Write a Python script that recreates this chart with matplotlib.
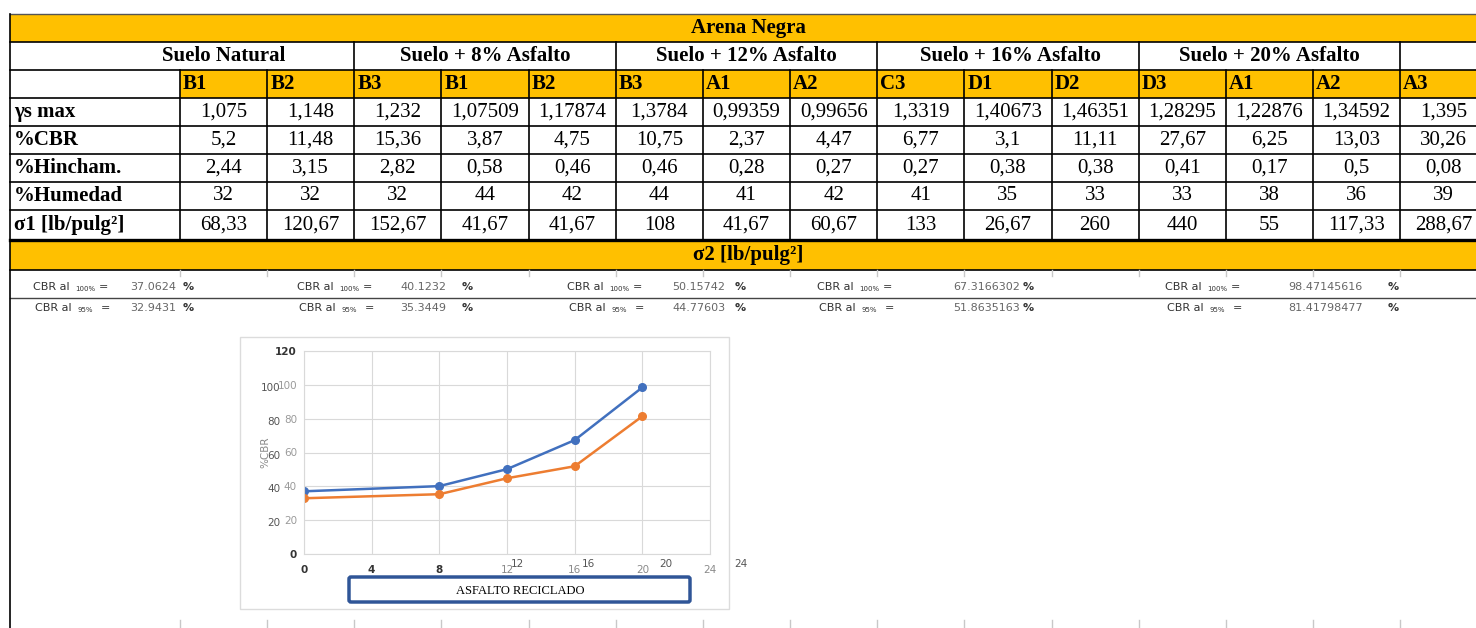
import numpy as np
import matplotlib.pyplot as plt
from matplotlib.patches import Rectangle, FancyBboxPatch

# ---- data read from the sheet ----
groups = ['Suelo Natural', 'Suelo + 8% Asfalto', 'Suelo + 12% Asfalto',
          'Suelo + 16% Asfalto', 'Suelo + 20% Asfalto']
samples = ['B1', 'B2', 'B3', 'B1', 'B2', 'B3', 'A1', 'A2', 'C3',
           'D1', 'D2', 'D3', 'A1', 'A2', 'A3']
row_labels = ['γs max', '%CBR', '%Hincham.', '%Humedad', 'σ1 [lb/pulg²]']
gamma_max = [1.075, 1.148, 1.232, 1.07509, 1.17874, 1.3784, 0.99359, 0.99656,
             1.3319, 1.40673, 1.46351, 1.28295, 1.22876, 1.34592, 1.395]
cbr = [5.2, 11.48, 15.36, 3.87, 4.75, 10.75, 2.37, 4.47, 6.77,
       3.1, 11.11, 27.67, 6.25, 13.03, 30.26]
hincham = [2.44, 3.15, 2.82, 0.58, 0.46, 0.46, 0.28, 0.27, 0.27,
           0.38, 0.38, 0.41, 0.17, 0.5, 0.08]
humedad = [32, 32, 32, 44, 42, 44, 41, 42, 41, 35, 33, 33, 38, 36, 39]
sigma1 = [68.33, 120.67, 152.67, 41.67, 41.67, 108, 41.67, 60.67, 133,
          26.67, 260, 440, 55, 117.33, 288.67]

asfalto = [0, 8, 12, 16, 20]
cbr_100 = [37.0624, 40.1232, 50.15742, 67.3166302, 98.47145616]
cbr_95 = [32.9431, 35.3449, 44.77603, 51.8635163, 81.41798477]

YELLOW = '#FFC000'
BLUE = '#4170BE'
ORANGE = '#ED7D31'
SERIF = 'Liberation Serif'
FS = 15


def fmt(v):
    return f"{v:g}".replace('.', ',')


fig = plt.figure(figsize=(14.76, 6.28), dpi=100)
bg = fig.add_axes([0, 0, 1, 1])
bg.set_xlim(0, 1476)
bg.set_ylim(628, 0)
bg.axis('off')

x0, xc, cw = 10, 180, 87.15
col_x = [xc + i * cw for i in range(16)]
rows_y = [14, 42, 70, 98, 126, 154, 182, 210, 240, 270]

# yellow bands
bg.add_patch(Rectangle((x0, 14), 1476 - x0, 28, color=YELLOW, lw=0))
bg.add_patch(Rectangle((xc, 70), 1476 - xc, 28, color=YELLOW, lw=0))
bg.add_patch(Rectangle((x0, 241), 1476 - x0, 29, color=YELLOW, lw=0))

# horizontal lines
bg.plot([x0, 1476], [13.5, 13.5], color='#555555', lw=1)
for y in rows_y[1:8]:
    bg.plot([x0, 1476], [y, y], color='black', lw=1.2)
bg.plot([x0, 1476], [240, 240], color='black', lw=2.4)
bg.plot([x0, 1476], [270, 270], color='black', lw=1.2)
bg.plot([x0, 1476], [297.5, 297.5], color='#444444', lw=1)

# vertical lines
bg.plot([x0, x0], [13.5, 628], color='black', lw=1.2)
for i in (2, 5, 8, 11, 14):
    bg.plot([col_x[i], col_x[i]], [42, 70], color='black', lw=1.2)
for x in col_x[:15]:
    bg.plot([x, x], [70, 240], color='black', lw=1.2)

# faint spreadsheet grid marks
for x in col_x[:15]:
    bg.plot([x, x], [270, 276], color='#c8c8c8', lw=1)
    bg.plot([x, x], [620, 628], color='#c8c8c8', lw=1)

# title rows
bg.text(748, 28, 'Arena Negra', ha='center', va='center', family=SERIF,
        fontsize=FS, fontweight='bold')
group_x = [224, 485, 746, 1010, 1269]
for gx, g in zip(group_x, groups):
    bg.text(gx, 56, g, ha='center', va='center', family=SERIF,
            fontsize=FS, fontweight='bold')
for i, s in enumerate(samples):
    bg.text(col_x[i] + 3, 84, s, ha='left', va='center', family=SERIF,
            fontsize=FS, fontweight='bold')

table = [gamma_max, cbr, hincham, humedad, sigma1]
for r, (lab, vals) in enumerate(zip(row_labels, table)):
    yc = (rows_y[r + 3] + rows_y[r + 4]) / 2
    bg.text(14, yc, lab, ha='left', va='center', family=SERIF,
            fontsize=FS, fontweight='bold')
    for i, v in enumerate(vals):
        bg.text(col_x[i] + cw / 2, yc, fmt(v), ha='center', va='center',
                family=SERIF, fontsize=FS)

bg.text(748, 255, 'σ2 [lb/pulg²]', ha='center', va='center', family=SERIF,
        fontsize=FS, fontweight='bold')

# CBR summary lines
lab_x = [33, 297, 567, 817, 1165]
val_x = [130, 400, 672, 953, 1288]
pct_x = [183, 462, 735, 1023, 1388]
for rowy, sub, vals, shift in [(287, '100%', cbr_100, 0), (308, '95%', cbr_95, 2)]:
    for lx, vx, px, v in zip(lab_x, val_x, pct_x, vals):
        bg.text(lx + shift, rowy, 'CBR al', ha='left', va='center',
                fontsize=8, color='#333333', family='DejaVu Sans')
        bg.text(lx + shift + 42, rowy + 2, sub, ha='left', va='center',
                fontsize=5, color='#333333', family='DejaVu Sans')
        bg.text(lx + shift + 66, rowy, '=', ha='left', va='center',
                fontsize=8, color='#333333', family='DejaVu Sans')
        bg.text(vx, rowy, str(v), ha='left', va='center',
                fontsize=8, color='#666666', family='DejaVu Sans')
        bg.text(px, rowy, '%', ha='left', va='center', fontsize=8,
                color='#333333', family='DejaVu Sans', fontweight='bold')

# chart frame
bg.add_patch(Rectangle((240, 337), 489, 272, facecolor='white',
                       edgecolor='#dcdcdc', lw=1))
bg.add_patch(FancyBboxPatch((349, 577), 341, 25,
                            boxstyle='round,pad=0,rounding_size=2',
                            facecolor='white', edgecolor='#2F5597', lw=2.5))
bg.text(520, 591, 'ASFALTO RECICLADO', ha='center', va='center',
        family=SERIF, fontsize=9)

# chart
ax = fig.add_axes([304 / 1476, (628 - 554) / 628, 406 / 1476, 203 / 628])
ax.set_facecolor('none')
ax.plot(asfalto, cbr_100, color=BLUE, lw=1.8, marker='o', ms=5.5)
ax.plot(asfalto, cbr_95, color=ORANGE, lw=1.8, marker='o', ms=5.5)
ax.set_xlim(0, 24)
ax.set_ylim(0, 120)
ax.set_xticks(range(0, 25, 4))
ax.set_yticks(range(0, 121, 20))
ax.grid(True, color='#d9d9d9', lw=0.8)
ax.set_axisbelow(True)
for sp in ax.spines.values():
    sp.set_color('#d9d9d9')
    sp.set_linewidth(0.8)
ax.tick_params(length=0, labelsize=7.5)
ax.tick_params(axis='x', pad=8)
ax.tick_params(axis='y', pad=5)
for lab in ax.get_xticklabels():
    if int(lab.get_text()) <= 8:
        lab.set_color('#333333')
        lab.set_fontweight('bold')
    else:
        lab.set_color('#8a8a8a')
for lab in ax.get_yticklabels():
    if lab.get_text() in ('0', '120'):
        lab.set_color('#333333')
        lab.set_fontweight('bold')
    else:
        lab.set_color('#9a9a9a')

# duplicated label artefacts of the pasted chart
for v in range(20, 101, 20):
    ax.text(-0.058, v - 1.8, str(v), transform=ax.get_yaxis_transform(),
            ha='right', va='center', fontsize=7.5, color='#555555', clip_on=False)
for xv, lab in zip([12.6, 16.8, 21.4, 25.8], ['12', '16', '20', '24']):
    ax.text(xv, -0.05, lab, transform=ax.get_xaxis_transform(),
            ha='center', va='center', fontsize=7.5, color='#555555', clip_on=False)
ax.text(-0.096, 0.5, '%CBR', transform=ax.transAxes, rotation=90,
        ha='center', va='center', fontsize=7.5, color='#8a8a8a')

fig.savefig('out.png', dpi=100)
